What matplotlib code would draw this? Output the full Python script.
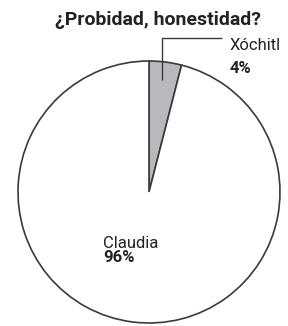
import matplotlib
matplotlib.use("Agg")
import matplotlib.pyplot as plt

# data
names = ["Xóchitl", "Claudia"]
shares = [4, 96]
colors = ["#b9b9bd", "#ffffff"]

W, H = 288, 326

fig = plt.figure(figsize=(W / 100, H / 100), dpi=100)
ax = fig.add_axes([0, 0, 1, 1])

def py(y):
    # image pixel row -> data y
    return H - y

ax.pie(
    shares,
    colors=colors,
    startangle=90,
    counterclock=False,
    center=(149, py(192)),
    radius=131,
    wedgeprops={"edgecolor": "#3a3a3a", "linewidth": 1.2},
    frame=True,
)
ax.set_xlim(0, W)
ax.set_ylim(0, H)
ax.set_aspect("equal")
ax.axis("off")

# leader line for the small slice
ax.plot([162, 162, 222], [py(80), py(38), py(38)], color="#3a3a3a", lw=1.0,
        solid_capstyle="butt")

ax.text(158, py(25), "¿Probidad, honestidad?", ha="center", va="baseline",
        fontsize=14, fontweight="bold", family="Roboto", color="#222222")

txt = dict(ha="left", va="baseline", fontsize=12, family="Roboto", color="#222222")
ax.text(230, py(50), names[0], **txt)
ax.text(230, py(73), f"{shares[0]}%", fontweight="bold", **txt)

ax.text(103, py(248), names[1], **txt)
ax.text(103, py(262), f"{shares[1]}%", fontweight="bold", **txt)

fig.savefig("out.png", dpi=100, facecolor="white")
